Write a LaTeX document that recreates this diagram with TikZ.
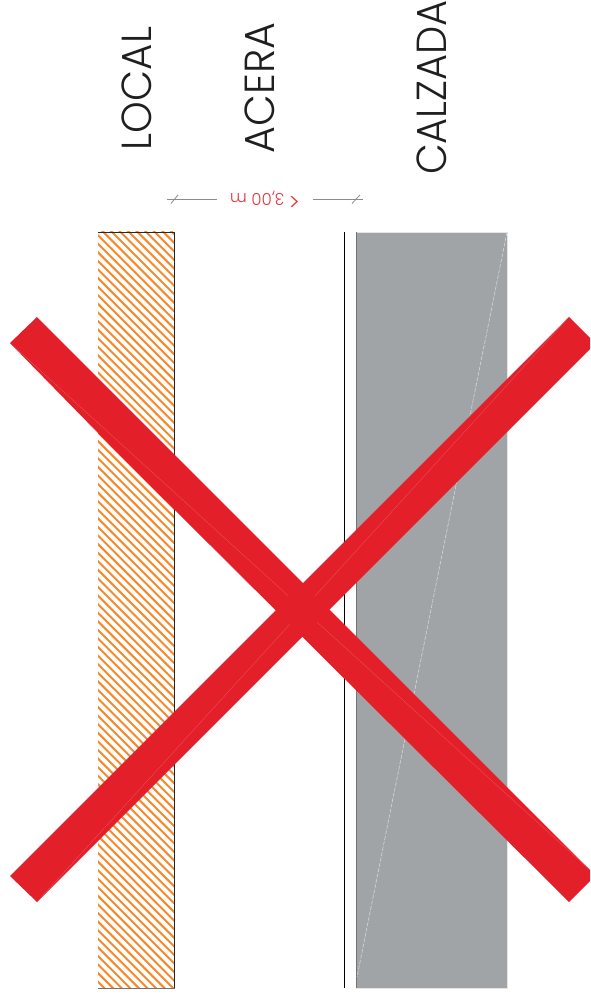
\documentclass[tikz,border=0pt]{standalone}
\usepackage{xcolor}
\usepackage{fontspec}
\setmainfont{Poppins Light}
\usetikzlibrary{positioning,calc}
\definecolor{roadgray}{HTML}{A1A4A6}
\definecolor{hatchorange}{HTML}{F58A2C}
\definecolor{crossred}{HTML}{E31F29}

\begin{document}
\begin{tikzpicture}[
            x=1pt, y=-1pt,
            label/.style={rotate=90, font=\fontsize{42}{42}\selectfont, text=black!88, inner sep=0pt},
            dimline/.style={draw=black!45, line width=0.8pt},
            crossarm/.style={fill=crossred, draw=none},
            seam/.style={draw=crossred!80!white, line width=0.4pt},
        ]
            \useasboundingbox (0,0) rectangle (590,1000);
            % local
            \begin{scope}
                \clip (98,232) rectangle (174.5,988);
                \foreach \c in {973.7,965.12,...,100}
                    \draw[hatchorange, line width=2pt] (90,\c) -- (180,\c+90);
            \end{scope}
            \draw[black!85, line width=0.8pt] (98,232) -- (174.5,232) -- (174.5,988);
            \draw[black!55, line width=0.8pt] (98,988) -- (174.5,988);
            % calzada
            \fill[roadgray] (356,232) rectangle (507,988);
            \draw[black!10, line width=0.8pt] (356,232) -- (507.4,232) -- (507.4,988) -- (356,988);
            \draw[black!55, line width=1.6pt] (356.5,232) -- (356.5,988);
            \draw[roadgray!45!white, line width=0.6pt, dash pattern=on 4pt off 1.5pt] (507,232) -- (357,977);
            \draw[black, line width=0.8pt] (344.4,232) -- (344.4,988);
            % labels
            \node[label] (local) at (137,88.5) {\scalebox{.96}[1]{LOCAL}};
            \node[label] (acera) at (259.5,88) {\scalebox{.98}[1]{ACERA}};
            \node[label] (calzada) at (431.5,87.5) {\scalebox{.95}[1]{CALZADA}};
            % dimension
            \node[rotate=180, text=crossred!90!white, font=\fontsize{16.5}{17}\selectfont, inner sep=0pt] (dim) at (265,199.5) {\scalebox{1.4}{<}\kern4pt 3,00 m};
            \coordinate (dimleft) at (167,199.3);
            \coordinate (dimright) at (363,199.3);
            \draw[dimline] (dimleft) -- (217,199.3);
            \draw[dimline] (313,199.3) -- (dimright);
            \draw[dimline] (171,203.5) -- (178,195);
            \draw[dimline] (352,203.5) -- (360,195);
            % cross
            \fill[crossarm] (37,317) -- (590,870) -- (590,881) -- (569,902) -- (120,455.5) -- (10,343) -- cycle;
            \fill[crossarm] (569,317) -- (590,338) -- (590,349) -- (37,902) -- (10,876) -- cycle;
            \draw[seam] (10,343) -- (288,595.6);
            \draw[seam] (317,622) -- (590,870);
            \draw[seam] (569,317) -- (315,596);
            \draw[seam] (290,624) -- (37,902);
        \end{tikzpicture}
\end{document}
